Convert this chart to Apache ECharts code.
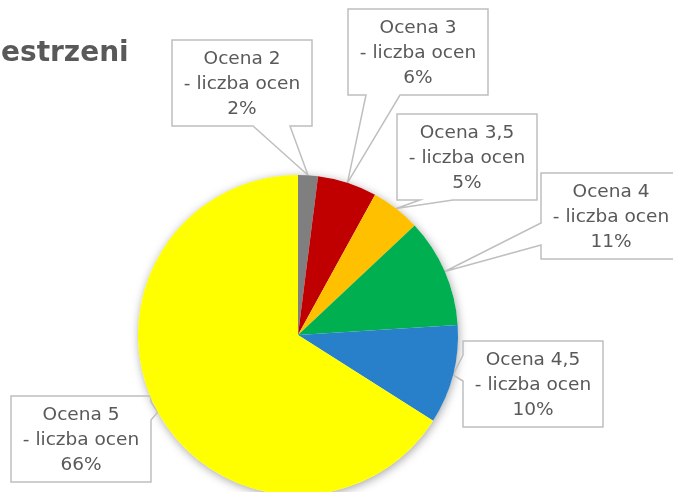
<!DOCTYPE html>
<html>
<head>
<meta charset="utf-8">
<script src="https://cdn.jsdelivr.net/npm/echarts@6/dist/echarts.min.js"></script>
<style>
  html, body { margin: 0; padding: 0; background: #ffffff; }
  #chart { width: 673px; height: 492px; }
</style>
</head>
<body>
<div id="chart"></div>
<script>
// Grade shares (percent of all grades)
const categories = ['Ocena 2', 'Ocena 3', 'Ocena 3,5', 'Ocena 4', 'Ocena 4,5', 'Ocena 5'];
const shares = [2, 6, 5, 11, 10, 66];
const colors = ['#7f7f7f', '#c00000', '#ffc000', '#00b050', '#2780c9', '#ffff00'];
const subLabel = '- liczba ocen';
const titleText = 'estrzeni';

// Callout boxes: top-left corner, and the side + span where the pointer leaves the box
const calloutPos = [
  [172, 40], [348, 9], [397, 114], [541, 173], [463, 341], [11, 396]
];
const calloutTail = [
  ['bottom', 81, 118], ['bottom', 18, 52], ['bottom', 23, 56],
  ['left', 50, 72], ['left', 14, 40], ['right', 6, 24]
];
const boxW = 140, boxH = 86;

// Outline of a speech-bubble callout whose pointer ends at the slice edge
function calloutOutline(i, tip) {
  const x0 = calloutPos[i][0], y0 = calloutPos[i][1];
  const x1 = x0 + boxW, y1 = y0 + boxH;
  const t = calloutTail[i];
  const a = t[1], b = t[2];
  if (t[0] === 'bottom') {
    return [tip, [x0 + a, y1], [x0, y1], [x0, y0], [x1, y0], [x1, y1], [x0 + b, y1], tip];
  }
  if (t[0] === 'left') {
    return [tip, [x0, y0 + a], [x0, y0], [x1, y0], [x1, y1], [x0, y1], [x0, y0 + b], tip];
  }
  return [tip, [x1, y0 + a], [x1, y0], [x0, y0], [x0, y1], [x1, y1], [x1, y0 + b], tip];
}

const chart = echarts.init(document.getElementById('chart'), null, { renderer: 'canvas' });

const center = [298, 335];
const radius = 160;

chart.setOption({
  animation: false,
  title: {
    text: titleText,
    left: -4,
    top: 35,
    textStyle: { fontFamily: 'DejaVu Sans', fontWeight: 'bold', fontSize: 28, color: '#595959' }
  },
  series: [
    {
      // soft shadow beneath the whole pie
      type: 'pie',
      silent: true,
      center: center,
      radius: radius,
      label: { show: false },
      labelLine: { show: false },
      data: [{ value: 1, itemStyle: { color: '#ffffff', shadowBlur: 10, shadowColor: 'rgba(0,0,0,0.35)', shadowOffsetX: 1, shadowOffsetY: 2 } }],
      z: 1
    },
    {
      type: 'pie',
      center: center,
      radius: radius,
      startAngle: 90,
      clockwise: true,
      z: 2,
      data: categories.map((c, i) => ({ name: c, value: shares[i], itemStyle: { color: colors[i] } })),
      label: {
        show: true,
        position: 'outside',
        formatter: (p) => p.name + '\n' + subLabel + '\n' + p.value + '%',
        fontFamily: 'DejaVu Sans',
        fontSize: 18.5,
        lineHeight: 25,
        color: '#595959',
        align: 'center',
        overflow: 'none',
        width: boxW
      },
      labelLine: {
        show: true,
        length: 20,
        length2: 10,
        smooth: false,
        lineStyle: { color: '#bfbfbf', width: 1.5, join: 'miter' }
      },
      labelLayout: function (params) {
        const i = params.dataIndex;
        const p = calloutPos[i];
        const out = { x: p[0] + boxW / 2, y: p[1] + boxH / 2 + 1, align: 'center', verticalAlign: 'middle' };
        if (params.labelLinePoints) {
          out.labelLinePoints = calloutOutline(i, params.labelLinePoints[0].slice());
        }
        return out;
      }
    }
  ]
});
</script>
</body>
</html>
